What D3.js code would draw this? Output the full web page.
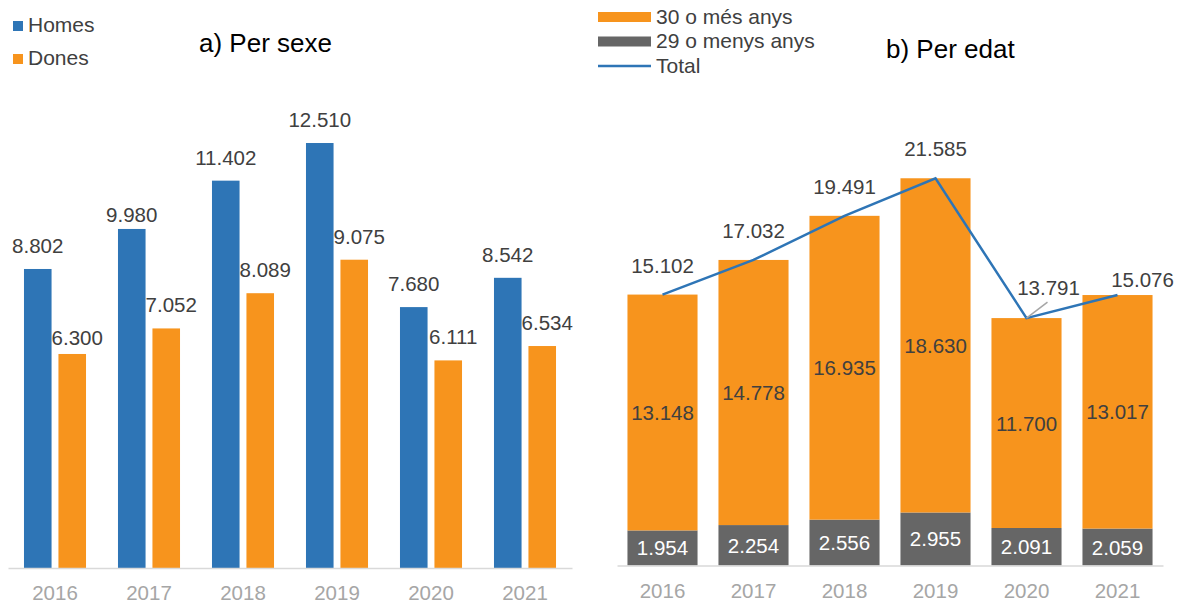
<!DOCTYPE html>
<html>
<head>
<meta charset="utf-8">
<script src="https://cdn.jsdelivr.net/npm/d3@7"></script>
<style>
  html, body { margin: 0; padding: 0; background: #fff; }
  svg { display: block; font-family: "Liberation Sans", Arial, sans-serif; }
</style>
</head>
<body>
<svg id="chart" width="1181" height="603"></svg>
<script>
// ---------- data ----------
const years = ["2016", "2017", "2018", "2019", "2020", "2021"];
const homes = [8802, 9980, 11402, 12510, 7680, 8542];
const dones = [6300, 7052, 8089, 9075, 6111, 6534];
const young = [1954, 2254, 2556, 2955, 2091, 2059];     // 29 o menys anys
const older = [13148, 14778, 16935, 18630, 11700, 13017]; // 30 o més anys
const total = [15102, 17032, 19491, 21585, 13791, 15076];
const sexSeries = ["Homes", "Dones"];
const ageSeries = ["30 o més anys", "29 o menys anys", "Total"];

// ---------- styles ----------
const C = { blue: "#2e75b6", orange: "#f7941d", grey: "#666666", text: "#404040", axis: "#d9d9d9", tick: "#a6a6a6" };
const FS = 20.5;
const fmt = v => d3.format(",")(v).replace(/,/g, ".");
const svg = d3.select("#chart");

// ================= Panel a) =================
const xa = d3.scaleBand().domain(years).range([8, 572]).paddingInner(0.34).paddingOuter(0.17);
const xa1 = d3.scaleBand().domain(sexSeries).range([0, xa.bandwidth()]).paddingInner(0.2);
const ya = d3.scaleLinear().domain([0, 14000]).range([568, 92.4]);

const gA = svg.append("g");
const rowsA = years.map((y, i) => ({ year: y, Homes: homes[i], Dones: dones[i] }));
const colA = { Homes: C.blue, Dones: C.orange };

// label nudges (layout only)
const nudgeA = { "Homes-2017": 9, "Dones-2016": 7 };

rowsA.forEach(r => {
  sexSeries.forEach(s => {
    const x = xa(r.year) + xa1(s);
    gA.append("rect")
      .attr("x", x).attr("y", ya(r[s]))
      .attr("width", xa1.bandwidth()).attr("height", ya(0) - ya(r[s]))
      .attr("fill", colA[s]);
    const dx = s === "Dones" ? 5 : 0;
    const dy = nudgeA[s + "-" + r.year] || 0;
    gA.append("text")
      .attr("x", x + xa1.bandwidth() / 2 + dx)
      .attr("y", ya(r[s]) - 16 + dy)
      .attr("text-anchor", "middle")
      .attr("font-size", FS).attr("fill", C.text)
      .text(fmt(r[s]));
  });
});

const axA = gA.append("g").attr("transform", "translate(0,568)")
  .call(d3.axisBottom(xa).tickSize(0).tickPadding(17.5));
axA.select(".domain").attr("stroke", C.axis).attr("stroke-width", 1.5);
axA.selectAll("text").attr("font-size", FS).attr("fill", C.tick).attr("font-family", "Liberation Sans, Arial, sans-serif");

// title & legend a
svg.append("text").attr("x", 199).attr("y", 52).attr("font-size", 26).attr("fill", "#000").text("a) Per sexe");
sexSeries.forEach((s, i) => {
  const y = 21 + i * 33;
  svg.append("rect").attr("x", 13).attr("y", y).attr("width", 10).attr("height", 10).attr("fill", colA[s]);
  svg.append("text").attr("x", 28).attr("y", y + 11).attr("font-size", 21).attr("fill", C.text).text(s);
});

// ================= Panel b) =================
const xb = d3.scaleBand().domain(years).range([617, 1163]).paddingInner(0.23).paddingOuter(0.115);
const yb = d3.scaleLinear().domain([0, 25000]).range([565.5, 117]);
const gB = svg.append("g");

const rowsB = years.map((y, i) => ({ year: y, young: young[i], older: older[i], total: total[i] }));
const stack = d3.stack().keys(["young", "older"])(rowsB);
const colB = { young: C.grey, older: C.orange };

stack.forEach(layer => {
  layer.forEach(d => {
    const x = xb(d.data.year);
    gB.append("rect")
      .attr("x", x).attr("y", yb(d[1]))
      .attr("width", xb.bandwidth()).attr("height", yb(d[0]) - yb(d[1]))
      .attr("fill", colB[layer.key]);
    gB.append("text")
      .attr("x", x + xb.bandwidth() / 2)
      .attr("y", (yb(d[0]) + yb(d[1])) / 2 + 7.5)
      .attr("text-anchor", "middle")
      .attr("font-size", FS)
      .attr("fill", layer.key === "young" ? "#ffffff" : C.text)
      .text(fmt(d.data[layer.key]));
  });
});

const axB = gB.append("g").attr("transform", "translate(0,565.5)")
  .call(d3.axisBottom(xb).tickSize(0).tickPadding(17.5));
axB.select(".domain").attr("stroke", C.axis).attr("stroke-width", 1.5);
axB.selectAll("text").attr("font-size", FS).attr("fill", C.tick).attr("font-family", "Liberation Sans, Arial, sans-serif");

// total line
const cx = y => xb(y) + xb.bandwidth() / 2;
const line = d3.line().x(d => cx(d.year)).y(d => yb(d.total));
gB.append("path").datum(rowsB).attr("d", line)
  .attr("fill", "none").attr("stroke", C.blue).attr("stroke-width", 2.5);

// total labels (layout nudges for 2020/2021)
const nudgeB = { "2020": [22, -1], "2021": [25, 14] };
rowsB.forEach(d => {
  const [dx, dy] = nudgeB[d.year] || [0, 0];
  const px = cx(d.year), py = yb(d.total);
  if (d.year === "2020") {
    gB.append("line").attr("x1", px).attr("y1", py).attr("x2", px + 21).attr("y2", py - 16)
      .attr("stroke", C.tick).attr("stroke-width", 1.5);
  }
  gB.append("text")
    .attr("x", px + dx).attr("y", py - 22 + dy)
    .attr("text-anchor", "middle").attr("font-size", FS).attr("fill", C.text)
    .text(fmt(d.total));
});

// title & legend b
svg.append("text").attr("x", 886).attr("y", 58).attr("font-size", 26).attr("fill", "#000").text("b) Per edat");
const legB = [
  { label: ageSeries[0], color: C.orange, h: 10 },
  { label: ageSeries[1], color: C.grey, h: 10 },
  { label: ageSeries[2], color: C.blue, h: 2.5 }
];
legB.forEach((l, i) => {
  const cy = 17 + i * 24.5;
  svg.append("rect").attr("x", 598).attr("y", cy - l.h / 2).attr("width", 53).attr("height", l.h).attr("fill", l.color);
  svg.append("text").attr("x", 656).attr("y", cy + 6.5).attr("font-size", 21).attr("fill", C.text).text(l.label);
});
</script>
</body>
</html>
